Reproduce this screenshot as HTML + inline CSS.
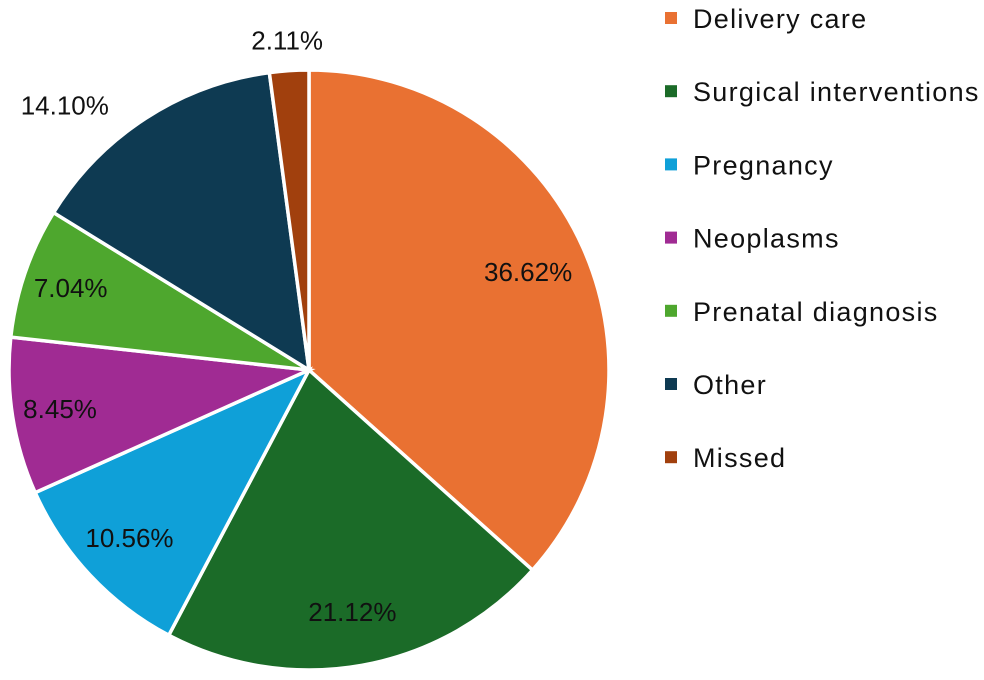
<!DOCTYPE html>
<html><head><meta charset="utf-8"><style>
body{margin:0;background:#fff;width:984px;height:675px;overflow:hidden;font-family:"Liberation Sans",sans-serif;}
svg text{font-family:"Liberation Sans",sans-serif;}
</style></head><body>
<svg id="chart" width="984" height="675" viewBox="0 0 984 675"></svg>
<script>
const categories=["Delivery care","Surgical interventions","Pregnancy","Neoplasms","Prenatal diagnosis","Other","Missed"];
const values=[36.62,21.12,10.56,8.45,7.04,14.10,2.11];
const labels=["36.62%","21.12%","10.56%","8.45%","7.04%","14.10%","2.11%"];
const colors=["#E97132","#1B6B28","#0FA0D8","#A02B93","#4EA72E","#0E3A52","#A1400D"];
const labelRadius=[0.8,0.82,0.82,0.84,0.84,1.2,1.1];
const svg=document.getElementById('chart');
const NS='http://www.w3.org/2000/svg';
const cx=309,cy=370,r=300;
const total=values.reduce((a,b)=>a+b,0);
function pt(a,d){return [cx+Math.sin(a)*d,cy-Math.cos(a)*d];}
let acc=0;
values.forEach((v,i)=>{
  const a0=acc/total*2*Math.PI, a1=(acc+v)/total*2*Math.PI; acc+=v;
  const p0=pt(a0,r),p1=pt(a1,r);
  const large=(a1-a0)>Math.PI?1:0;
  const path=document.createElementNS(NS,'path');
  path.setAttribute('d',`M${cx},${cy} L${p0[0]},${p0[1]} A${r},${r} 0 ${large} 1 ${p1[0]},${p1[1]} Z`);
  path.setAttribute('fill',colors[i]);path.setAttribute('stroke','#fff');path.setAttribute('stroke-width','3.5');
  
  
  svg.appendChild(path);
  let am=(a0+a1)/2;
  if(i===5) am-=0.17;
  const lp=pt(am,r*labelRadius[i]);
  const t=document.createElementNS(NS,'text');
  t.setAttribute('x',lp[0]);t.setAttribute('y',lp[1]+9);t.setAttribute('text-anchor','middle');
  t.setAttribute('font-size','26');t.setAttribute('fill','#111');t.textContent=labels[i];
  
  
  svg.appendChild(t);
});
categories.forEach((c,i)=>{
  const y=18+i*73.2;
  const g=document.createElementNS(NS,'g');
  
  
  const rc=document.createElementNS(NS,'rect');
  rc.setAttribute('x',665);rc.setAttribute('y',y-6);rc.setAttribute('width',12);rc.setAttribute('height',12);rc.setAttribute('fill',colors[i]);
  g.appendChild(rc);
  const t=document.createElementNS(NS,'text');
  t.setAttribute('x',693);t.setAttribute('y',y+10);t.setAttribute('font-size','27');t.setAttribute('letter-spacing','1.3');t.setAttribute('fill','#111');t.textContent=c;
  g.appendChild(t);
  svg.appendChild(g);
});
</script>
</body></html>
